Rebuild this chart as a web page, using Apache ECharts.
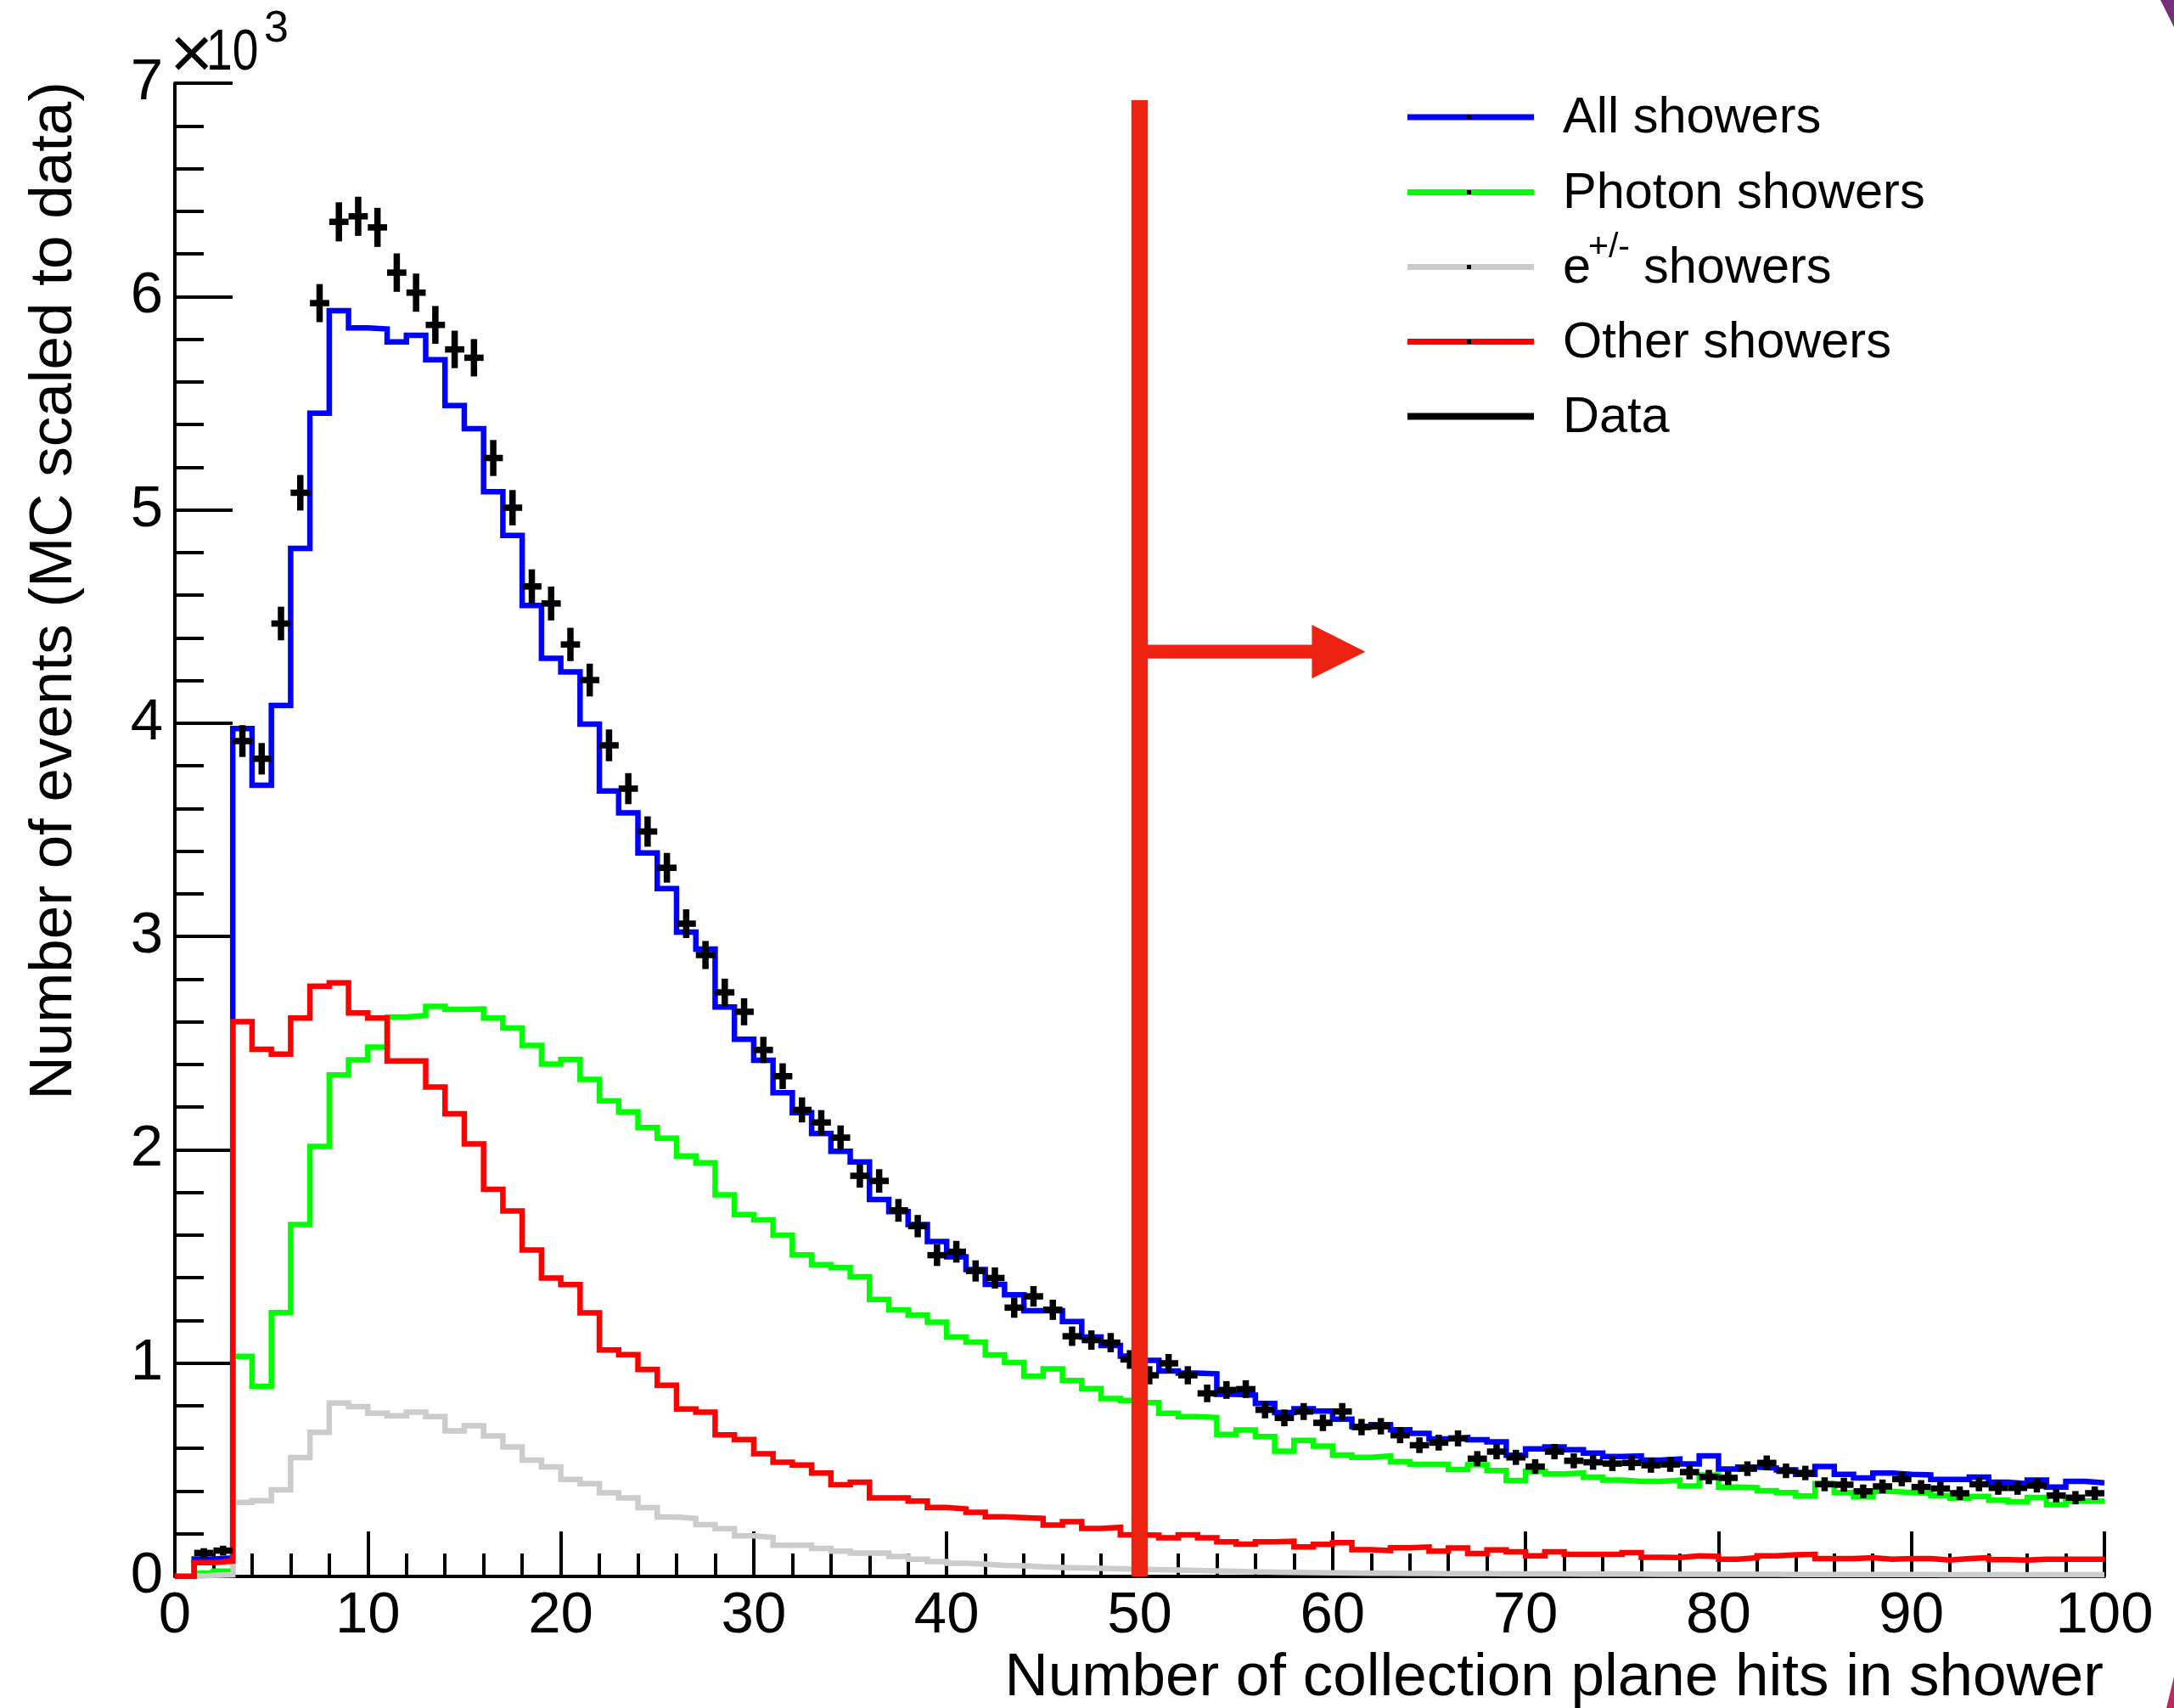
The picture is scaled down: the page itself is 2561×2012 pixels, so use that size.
<!DOCTYPE html>
<html>
<head>
<meta charset="utf-8">
<title>Collection plane hits per shower</title>
<script src="https://cdn.jsdelivr.net/npm/echarts@6/dist/echarts.min.js"></script>
<style>
html, body { margin: 0; padding: 0; background: #ffffff; }
#chart { width: 2561px; height: 2012px; }
</style>
</head>
<body>
<div id="chart"></div>
<script>
// Bin i covers [i, i+1) collection plane hits; 100 bins from 0 to 100.
const allShowers = [
  0, 82, 87, 3975, 3709, 4083, 4819, 5453, 5933, 5853,
  5848, 5787, 5818, 5704, 5489, 5380, 5085, 4880, 4552, 4304,
  4240, 3995, 3682, 3580, 3392, 3224, 3020, 2941, 2669, 2518,
  2420, 2267, 2174, 2076, 1993, 1943, 1767, 1710, 1650, 1570,
  1498, 1439, 1369, 1320, 1246, 1246, 1195, 1122, 1082, 1033,
  1013, 963, 953, 950, 854, 850, 811, 768, 786, 775,
  737, 702, 711, 687, 671, 645, 651, 641, 631, 568,
  598, 607, 594, 578, 562, 565, 545, 550, 527, 565,
  503, 512, 508, 499, 479, 515, 479, 462, 485, 479,
  476, 455, 455, 466, 442, 435, 452, 419, 446, 439
];
const photonShowers = [
  0, 15, 25, 1032, 890, 1237, 1650, 2016, 2351, 2422,
  2481, 2623, 2630, 2672, 2658, 2660, 2618, 2571, 2489, 2402,
  2424, 2330, 2230, 2178, 2104, 2054, 1971, 1939, 1789, 1696,
  1671, 1600, 1507, 1461, 1448, 1405, 1298, 1250, 1225, 1192,
  1122, 1098, 1039, 1003, 938, 973, 918, 880, 834, 825,
  815, 765, 749, 745, 666, 686, 656, 587, 638, 611,
  569, 558, 565, 538, 525, 525, 501, 523, 496, 450,
  492, 481, 485, 466, 452, 446, 446, 451, 424, 476,
  419, 416, 402, 393, 377, 435, 393, 373, 399, 393,
  389, 379, 366, 375, 357, 349, 370, 336, 353, 353
];
const electronShowers = [
  0, 5, 8, 347, 355, 406, 557, 676, 813, 796,
  765, 753, 770, 749, 682, 706, 659, 607, 545, 513,
  455, 435, 392, 368, 322, 279, 272, 243, 224, 190,
  183, 146, 146, 131, 118, 109, 109, 94, 81, 70,
  62, 58, 52, 50, 45, 42, 40, 38, 36, 34,
  32, 30, 28, 26, 24, 22, 20, 19, 18, 17,
  16, 15, 15, 14, 14, 13, 13, 13, 12, 12,
  12, 12, 11, 11, 11, 11, 10, 10, 10, 10,
  10, 10, 10, 9, 9, 9, 9, 9, 9, 9,
  9, 8, 8, 8, 8, 8, 8, 8, 8, 8
];
const otherShowers = [
  0, 65, 72, 2601, 2471, 2448, 2618, 2767, 2783, 2641,
  2618, 2417, 2417, 2294, 2169, 2028, 1815, 1713, 1530, 1399,
  1368, 1236, 1062, 1040, 970, 896, 785, 770, 664, 642,
  575, 535, 522, 485, 430, 442, 368, 368, 353, 323,
  316, 300, 280, 276, 272, 241, 257, 225, 230, 195,
  193, 181, 195, 181, 162, 151, 162, 165, 138, 150,
  158, 125, 121, 134, 138, 118, 133, 107, 124, 115,
  97, 115, 103, 103, 103, 111, 90, 89, 96, 94,
  81, 88, 97, 101, 103, 84, 84, 88, 81, 84,
  84, 77, 84, 88, 79, 77, 81, 81, 81, 81
];
const dataCounts = [
  null, 110, 121, 3916, 3833, 4467, 5080, 5969, 6350, 6376,
  6324, 6112, 6018, 5867, 5752, 5713, 5243, 5010, 4641, 4561,
  4369, 4202, 3896, 3693, 3492, 3322, 3060, 2913, 2738, 2647,
  2468, 2345, 2187, 2128, 2057, 1878, 1854, 1716, 1642, 1506,
  1522, 1432, 1399, 1260, 1313, 1250, 1126, 1108, 1096, 1017,
  943, 999, 943, 858, 874, 878, 781, 743, 773, 720,
  773, 700, 704, 662, 615, 627, 647, 552, 585, 558,
  515, 585, 542, 535, 529, 532, 521, 525, 489, 466,
  462, 505, 532, 495, 485, 432, 430, 399, 422, 456,
  419, 412, 390, 432, 415, 415, 426, 379, 369, 390
];

// Tick labels
const xTickLabels = ['0', '10', '20', '30', '40', '50', '60', '70', '80', '90', '100'];
const yTickLabels = ['0', '1', '2', '3', '4', '5', '6', '7'];

// Selection cut: keep showers with at least 50 hits
const cutValue = 50;
const cutTop = 6920;
const arrowLevel = 4335;
const arrowTip = 61.7;

const legendNames = ['All showers', 'Photon showers', 'e', 'Other showers', 'Data'];
const legendColors = ['#0000ff', '#00ff00', '#cccccc', '#ff0000', '#000000'];

const FONT = '"Liberation Sans", Arial, Helvetica, sans-serif';
const CUT_COLOR = '#ee2211';
const HIST_WIDTH = 6.5;
const AXIS_WIDTH = 4;

function stepData(values) {
  const pts = values.map((v, i) => [i, v]);
  pts.push([values.length, values[values.length - 1]]);
  return pts;
}

function histSeries(name, values, color, z) {
  return {
    name: name,
    type: 'line',
    step: 'end',
    data: stepData(values),
    showSymbol: false,
    symbol: 'none',
    lineStyle: { color: color, width: HIST_WIDTH, cap: 'butt', join: 'miter' },
    z: z,
    silent: true
  };
}

const chart = echarts.init(document.getElementById('chart'), null, { renderer: 'canvas' });

// Legend block, drawn as graphic elements
const legendGraphics = [];
const legendX0 = 1658, legendX1 = 1807, legendTextX = 1841;
const legendRowY = [138, 226.5, 314.5, 402.5, 490.5];
const legendFont = '59.5px ' + FONT;
legendNames.forEach((name, i) => {
  const y = legendRowY[i];
  const isData = i === 4;
  legendGraphics.push({
    type: 'line',
    shape: { x1: legendX0, y1: y, x2: legendX1, y2: y },
    style: { stroke: legendColors[i], lineWidth: isData ? 8 : 7 },
    silent: true
  });
  if (!isData) {
    legendGraphics.push({
      type: 'rect',
      shape: { x: 1728, y: y - 2.5, width: 5, height: 5 },
      style: { fill: '#000000' },
      silent: true
    });
  }
  if (i === 2) {
    legendGraphics.push({
      type: 'text', x: legendTextX, y: y + 2,
      style: { text: 'e', font: legendFont, fill: '#000', align: 'left', verticalAlign: 'middle' }
    });
    legendGraphics.push({
      type: 'text', x: 1871, y: y - 23,
      style: { text: '+/-', font: '41px ' + FONT, fill: '#000', align: 'left', verticalAlign: 'middle' }
    });
    legendGraphics.push({
      type: 'text', x: 1936, y: y + 2,
      style: { text: 'showers', font: legendFont, fill: '#000', align: 'left', verticalAlign: 'middle' }
    });
  } else {
    legendGraphics.push({
      type: 'text', x: legendTextX, y: y + 2,
      style: { text: name, font: legendFont, fill: '#000', align: 'left', verticalAlign: 'middle' }
    });
  }
});

const option = {
  animation: false,
  backgroundColor: '#ffffff',
  grid: {
    left: 206, right: 82, top: 98, bottom: 155,
    containLabel: false,
    outerBoundsMode: 'none'
  },
  xAxis: {
    type: 'value',
    min: 0, max: 100, interval: 10,
    axisLine: { show: true, onZero: false, lineStyle: { color: '#000', width: AXIS_WIDTH } },
    axisTick: { show: true, inside: true, length: 53, lineStyle: { color: '#000', width: AXIS_WIDTH } },
    minorTick: { show: true, splitNumber: 5, length: 27, lineStyle: { color: '#000', width: AXIS_WIDTH } },
    splitLine: { show: false },
    minorSplitLine: { show: false },
    axisLabel: {
      show: true, margin: 12, color: '#000', fontSize: 69, fontFamily: FONT,
      showMinLabel: true, showMaxLabel: true,
      formatter: (v) => xTickLabels[Math.round(v / 10)]
    }
  },
  yAxis: {
    type: 'value',
    min: 0, max: 7000, interval: 1000,
    axisLine: { show: true, onZero: false, lineStyle: { color: '#000', width: AXIS_WIDTH } },
    axisTick: { show: true, inside: true, length: 68, lineStyle: { color: '#000', width: AXIS_WIDTH } },
    minorTick: { show: true, splitNumber: 5, length: 34, lineStyle: { color: '#000', width: AXIS_WIDTH } },
    splitLine: { show: false },
    minorSplitLine: { show: false },
    axisLabel: {
      show: true, margin: 14, color: '#000', fontSize: 69, fontFamily: FONT,
      showMinLabel: true, showMaxLabel: true,
      formatter: (v) => yTickLabels[Math.round(v / 1000)]
    }
  },
  series: [
    histSeries('All showers', allShowers, '#0000ff', 2),
    histSeries('Photon showers', photonShowers, '#00ff00', 3),
    histSeries('e+/- showers', electronShowers, '#cccccc', 4),
    histSeries('Other showers', otherShowers, '#ff0000', 5),
    {
      name: 'Data',
      type: 'custom',
      z: 6,
      silent: true,
      data: dataCounts.map((v, i) => [i, v]).filter(d => d[1] !== null),
      encode: { x: 0, y: 1 },
      renderItem: function (params, api) {
        const x = api.value(0);
        const v = api.value(1);
        const err = Math.sqrt(v);
        const pL = api.coord([x, v]);
        const pR = api.coord([x + 1, v]);
        const pT = api.coord([x + 0.5, v + err]);
        const pB = api.coord([x + 0.5, v - err]);
        return {
          type: 'group',
          children: [
            { type: 'line', shape: { x1: pL[0], y1: pL[1], x2: pR[0], y2: pR[1] },
              style: { stroke: '#000', lineWidth: 7.5 } },
            { type: 'line', shape: { x1: pT[0], y1: pT[1] - 3, x2: pB[0], y2: pB[1] + 3 },
              style: { stroke: '#000', lineWidth: 7.5 } }
          ]
        };
      }
    },
    {
      name: 'Cut',
      type: 'custom',
      z: 10,
      silent: true,
      data: [[cutValue, cutTop, arrowLevel, arrowTip]],
      encode: { x: 0, y: 1 },
      renderItem: function (params, api) {
        const xc = api.value(0);
        const top = api.value(1);
        const lvl = api.value(2);
        const tip = api.value(3);
        const pBottom = api.coord([xc, 0]);
        const pTop = api.coord([xc, top]);
        const pStart = api.coord([xc, lvl]);
        const pTip = api.coord([tip, lvl]);
        const headLen = 63, headHalf = 31.6;
        return {
          type: 'group',
          children: [
            { type: 'line', shape: { x1: pBottom[0], y1: pBottom[1], x2: pTop[0], y2: pTop[1] },
              style: { stroke: CUT_COLOR, lineWidth: 19.4 } },
            { type: 'line', shape: { x1: pStart[0], y1: pStart[1], x2: pTip[0] - headLen + 2, y2: pTip[1] },
              style: { stroke: CUT_COLOR, lineWidth: 16.3 } },
            { type: 'polygon', shape: { points: [
                [pTip[0] - headLen, pTip[1] - headHalf],
                [pTip[0], pTip[1]],
                [pTip[0] - headLen, pTip[1] + headHalf]
              ] },
              style: { fill: CUT_COLOR } }
          ]
        };
      }
    }
  ],
  graphic: [
    // y axis title
    {
      type: 'text', x: 64, y: 96, rotation: Math.PI / 2,
      style: { text: 'Number of events (MC scaled to data)', font: '71px ' + FONT, fill: '#000',
               align: 'right', verticalAlign: 'middle' }
    },
    // x axis title
    {
      type: 'text', x: 2478, y: 1977,
      style: { text: 'Number of collection plane hits in shower', font: '71px ' + FONT, fill: '#000',
               align: 'right', verticalAlign: 'middle' }
    },
    // y axis multiplier: x10^3
    {
      type: 'text', x: 200, y: 68,
      style: { text: '\u00d7', font: '88px ' + FONT, fill: '#000', align: 'left', verticalAlign: 'middle' }
    },
    {
      type: 'text', x: 243, y: 63, scaleX: 0.8, originX: 0,
      style: { text: '10', font: '69px ' + FONT, fill: '#000', align: 'left', verticalAlign: 'middle' }
    },
    {
      type: 'text', x: 311, y: 35,
      style: { text: '3', font: '52px ' + FONT, fill: '#000', align: 'left', verticalAlign: 'middle' }
    },
    // page corner decorations
    {
      type: 'polygon', shape: { points: [[2545, 0], [2561, 0], [2561, 32]] },
      style: { fill: '#74307c' }, silent: true
    },
    {
      type: 'polygon', shape: { points: [[2561, 1975], [2561, 2012], [2552, 2012]] },
      style: { fill: '#c4285a' }, silent: true
    }
  ].concat(legendGraphics)
};

chart.setOption(option);
</script>
</body>
</html>
